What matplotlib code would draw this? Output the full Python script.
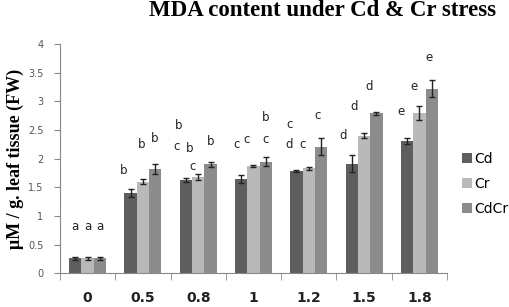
import numpy as np
import matplotlib
matplotlib.use("Agg")
import matplotlib.pyplot as plt

# concentrations on the x axis
doses = ["0", "0.5", "0.8", "1", "1.2", "1.5", "1.8"]
series = ["Cd", "Cr", "CdCr"]

cd = [0.26, 1.40, 1.63, 1.65, 1.78, 1.91, 2.31]
cr = [0.26, 1.60, 1.68, 1.87, 1.83, 2.40, 2.80]
cdcr = [0.26, 1.82, 1.90, 1.95, 2.21, 2.79, 3.22]

cd_err = [0.02, 0.07, 0.04, 0.07, 0.02, 0.15, 0.05]
cr_err = [0.02, 0.04, 0.06, 0.02, 0.03, 0.04, 0.12]
cdcr_err = [0.02, 0.08, 0.04, 0.07, 0.15, 0.02, 0.15]

# significance letters: (dose index, series index, letter, y value)
letters = [
    (0, 0, "a", 0.81), (0, 1, "a", 0.81), (0, 2, "a", 0.81),
    (1, 0, "b", 1.80), (1, 1, "b", 2.24), (1, 2, "b", 2.36),
    (2, 0, "b", 2.57), (2, 0, "c", 2.21), (2, 1, "b", 2.17),
    (2, 1, "c", 1.86), (2, 2, "b", 2.30),
    (3, 0, "c", 2.24), (3, 1, "c", 2.33), (3, 2, "b", 2.71), (3, 2, "c", 2.34),
    (4, 0, "c", 2.59), (4, 0, "d", 2.24), (4, 1, "c", 2.24), (4, 2, "c", 2.75),
    (5, 0, "d", 2.40), (5, 1, "d", 2.91), (5, 2, "d", 3.26),
    (6, 0, "e", 2.82), (6, 1, "e", 3.25), (6, 2, "e", 3.77),
]
# small horizontal nudges of the letters (fraction of a category)
letter_dx = [0, 0, 0,
             -0.13, -0.02, -0.02,
             -0.14, -0.16, -0.16, -0.11, 0,
             -0.08, -0.13, 0, 0,
             -0.13, -0.13, -0.11, -0.06,
             -0.15, -0.18, -0.13,
             -0.11, -0.09, -0.05]

colors = ["#5e5e5e", "#b9b9b9", "#8c8c8c"]

fig = plt.figure(figsize=(5.1, 3.07), dpi=100)
ax = fig.add_axes([0.1176, 0.1098, 0.7589, 0.7469])

x = np.arange(len(doses))
w = 0.223
values = [cd, cr, cdcr]
errs = [cd_err, cr_err, cdcr_err]
for i, (vals, err) in enumerate(zip(values, errs)):
    ax.bar(x + (i - 1) * w, vals, width=w, color=colors[i], label=series[i],
           yerr=err, error_kw=dict(ecolor="#222222", elinewidth=1.0,
                                   capsize=2.2, capthick=1.0))

for (k, s, txt, yv), dx in zip(letters, letter_dx):
    ax.text(k + (s - 1) * w + dx, yv, txt, ha="center", va="center",
            fontsize=8.5, color="#222222", family="DejaVu Sans")

ax.set_xlim(-0.5, len(doses) - 0.5)
ax.set_ylim(0, 4)
ax.set_yticks(np.arange(0, 4.01, 0.5))
ax.set_yticklabels(["0", "0.5", "1", "1.5", "2", "2.5", "3", "3.5", "4"])
ax.set_xticks(x)
ax.set_xticklabels(doses, fontsize=10, fontweight="bold", color="#222222")
ax.set_xticks(np.arange(-0.5, len(doses)), minor=True)
ax.tick_params(axis="x", which="major", length=0, pad=13)
ax.tick_params(axis="x", which="minor", length=5, color="#888888", direction="out")
ax.tick_params(axis="y", length=4, color="#888888", labelsize=7,
               labelcolor="#555555", pad=8)

for side in ["top", "right"]:
    ax.spines[side].set_visible(False)
for side in ["left", "bottom"]:
    ax.spines[side].set_color("#888888")

ax.set_ylabel("\u03bcM / g. leaf tissue (FW)", family="Liberation Serif",
              fontweight="bold", fontsize=13, labelpad=3)

fig.suptitle("MDA content under Cd & Cr stress", family="Liberation Serif",
             fontweight="bold", fontsize=16.5, x=0.632, y=1.0)

ax.legend(loc="upper left", bbox_to_anchor=(1.025, 0.555), frameon=False,
          fontsize=10, handlelength=0.7, handleheight=0.7, handletextpad=0.15,
          labelspacing=0.8, borderaxespad=0)

plt.savefig("out.png", dpi=100)
